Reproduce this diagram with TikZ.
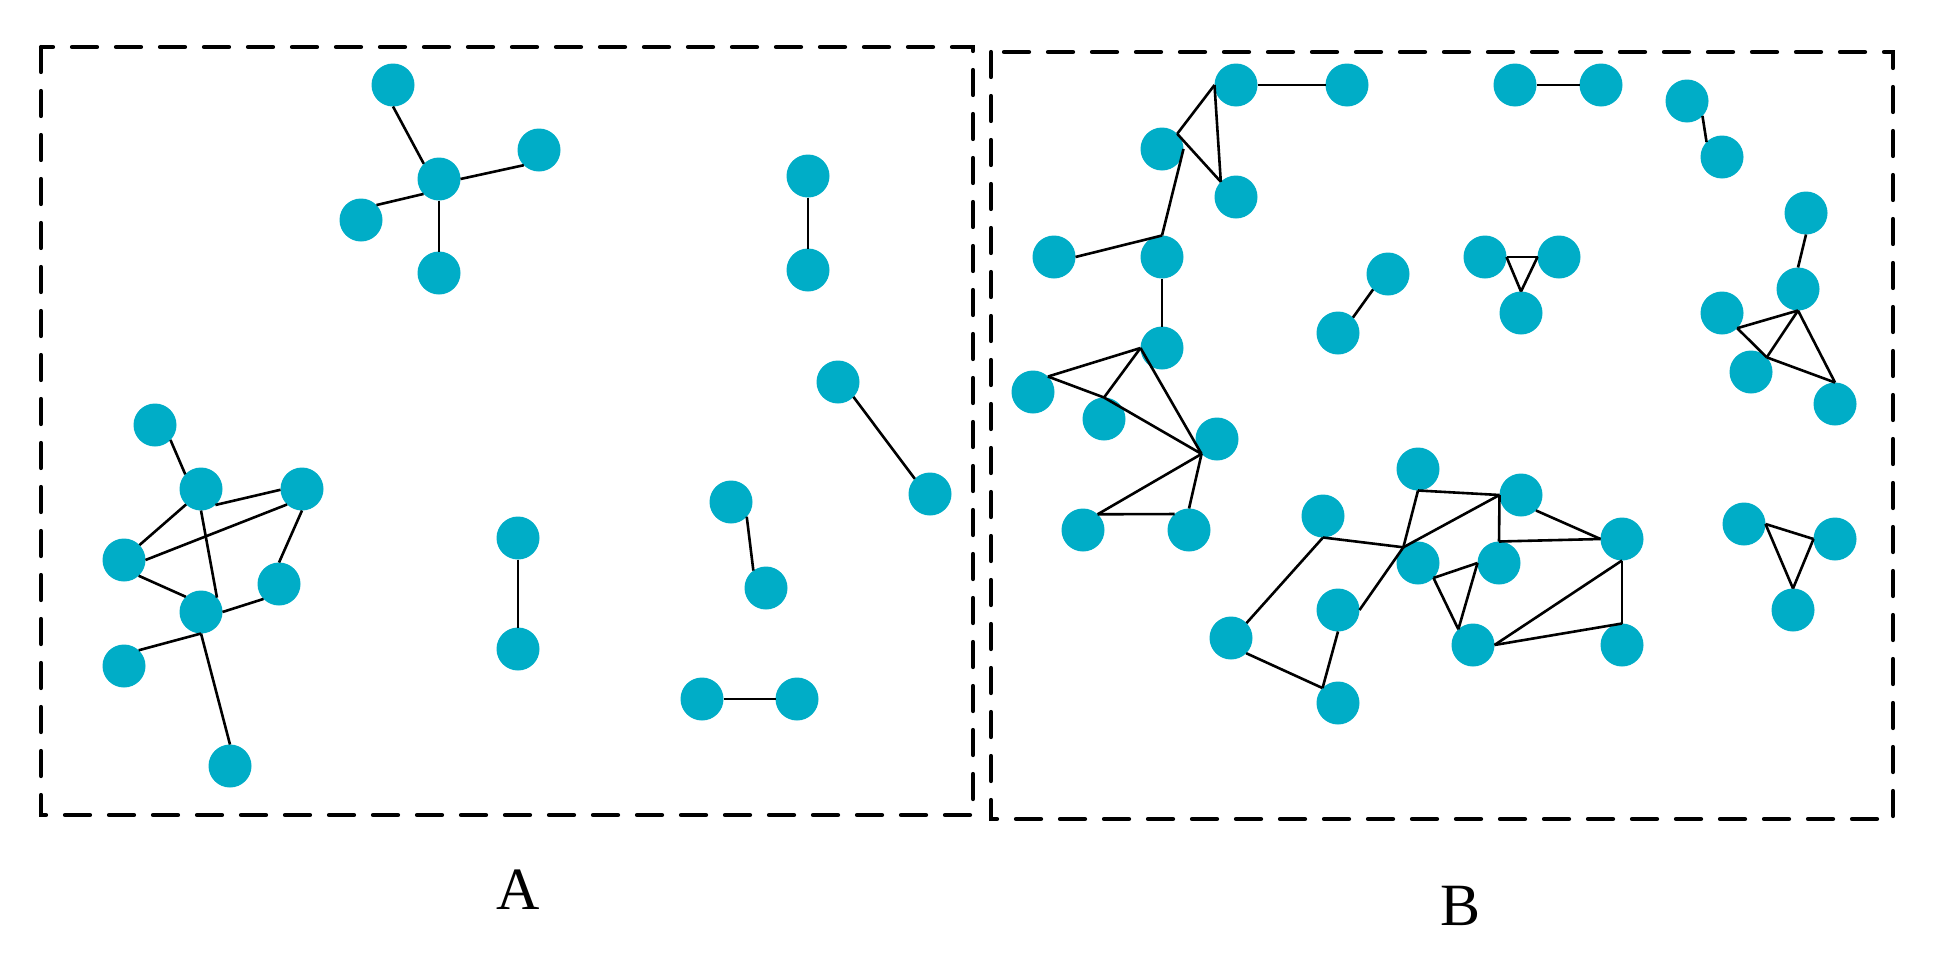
\documentclass[tikz,border=0pt]{standalone}
\usepackage{fontspec}
\setmainfont{Liberation Serif}
\definecolor{nodecyan}{RGB}{0,173,199}
\begin{document}
\begin{tikzpicture}[x=1pt,y=-1pt,
  dotnode/.style={circle,fill=nodecyan,minimum size=43pt,inner sep=0pt,outer sep=0pt},
  link/.style={line width=2.6pt,black},
  frame/.style={line width=4.2pt,dash pattern=on 25pt off 19pt,line cap=round},
  panellabel/.style={anchor=base,inner sep=0pt,font=\fontsize{60}{72}\selectfont}]
\useasboundingbox (0,0) rectangle (1942,964);
\fill[white] (0,0) rectangle (1942,964);
% frames
\draw[frame] (41,47) rectangle (973,815);
\draw[frame] (991,52) rectangle (1893,819);
% labels
\node[panellabel] (labA) at (518,909) {A};
\node[panellabel] (labB) at (1460,925) {B};
% panel A nodes
\foreach \n/\x/\y in {a1/393/85,a2/439/179,a3/361/220,a4/439/273,a5/539/150,
  a6/808/176,a7/808/270,a8/838/382,a9/930/494,a10/518/538,a11/518/649,
  a12/731/502,a13/766/588,a14/702/699,a15/797/699,a16/155/425,a17/201/489,
  a18/302/489,a19/124/560,a20/279/584,a21/201/612,a22/124/666,a23/230/766}
  {\node[dotnode] (\n) at (\x,\y) {};}
% panel B nodes
\foreach \n/\x/\y in {b1/1236/85,b2/1347/85,b3/1162/149,b4/1236/197,b5/1054/257,
  b6/1162/257,b7/1162/348,b8/1033/392,b9/1104/419,b10/1217/439,b11/1388/274,
  b12/1338/333,b13/1083/530,b14/1189/530,b15/1323/516,b16/1231/638,b17/1338/610,
  b18/1338/703,b19/1418/469,b20/1418/563,b21/1473/645,b22/1521/495,b23/1499/563,
  b24/1622/539,b25/1622/645,b26/1744/524,b27/1835/539,b28/1793/610,b29/1515/85,
  b30/1601/85,b31/1687/101,b32/1722/157,b33/1485/257,b34/1559/257,b35/1521/313,
  b36/1806/213,b37/1798/289,b38/1722/313,b39/1751/372,b40/1835/404}
  {\node[dotnode] (\n) at (\x,\y) {};}
% panel A edges
\draw[link] (a1.270) -- (a2.135);
\draw[link] (a2.224) -- (a3.44);
\draw[link] (a2.270) -- (a4.90);
\draw[link] (a2.0) -- (a5.225);
\draw[link] (a6.270) -- (a7.90);
\draw[link] (a8.316) -- (a9.135);
\draw[link] (a10.270) -- (a11.90);
\draw[link] (a12.317) -- (a13.126);
\draw[link] (a14.0) -- (a15.180);
\draw[link] (a16.316) -- (a17.137);
\draw[link] (a17.312) -- (a18.182);
\draw[link] (a17.226) -- (a19.44);
\draw[link] (a19.0) -- (a18.226);
\draw[link] (a17.270) -- (a21.42);
\draw[link] (a18.270) -- (a20.90);
\draw[link] (a19.313) -- (a21.135);
\draw[link] (a21.0) -- (a20.224);
\draw[link] (a21.270) -- (a22.47);
\draw[link] (a21.270) -- (a23.90);
% panel B edges
\draw[link] (b1.0) -- (b2.180);
\draw[link] (b1.180) -- (b3.45);
\draw[link] (b1.180) -- (b4.135);
\draw[link] (b3.45) -- (b4.135);
\draw[link] (b3.0) -- (b6.90);
\draw[link] (b5.0) -- (b6.90);
\draw[link] (b6.270) -- (b7.90);
\draw[link] (b11.226) -- (b12.46);
\draw[link] (b7.180) -- (b8.46);
\draw[link] (b7.180) -- (b9.90);
\draw[link] (b7.180) -- (b10.224);
\draw[link] (b8.46) -- (b9.90);
\draw[link] (b9.90) -- (b10.224);
\draw[link] (b10.224) -- (b13.47);
\draw[link] (b10.224) -- (b14.90);
\draw[link] (b13.47) -- (b14.132);
\draw[link] (b15.270) -- (b16.44);
\draw[link] (b15.270) -- (b20.133);
\draw[link] (b16.315) -- (b18.136);
\draw[link] (b17.270) -- (b18.136);
\draw[link] (b17.0) -- (b20.133);
\draw[link] (b20.133) -- (b19.270);
\draw[link] (b19.270) -- (b22.180);
\draw[link] (b20.133) -- (b22.180);
\draw[link] (b22.180) -- (b23.90);
\draw[link] (b23.90) -- (b24.180);
\draw[link] (b22.314) -- (b24.180);
\draw[link] (b20.316) -- (b23.180);
\draw[link] (b20.316) -- (b21.133);
\draw[link] (b21.133) -- (b23.180);
\draw[link] (b21.0) -- (b24.270);
\draw[link] (b21.0) -- (b25.90);
\draw[link] (b24.270) -- (b25.90);
\draw[link] (b26.0) -- (b27.180);
\draw[link] (b26.0) -- (b28.90);
\draw[link] (b27.180) -- (b28.90);
\draw[link] (b29.0) -- (b30.180);
\draw[link] (b31.316) -- (b32.136);
\draw[link] (b33.0) -- (b34.180);
\draw[link] (b33.0) -- (b35.90);
\draw[link] (b34.180) -- (b35.90);
\draw[link] (b36.270) -- (b37.90);
\draw[link] (b37.270) -- (b38.315);
\draw[link] (b37.270) -- (b39.43);
\draw[link] (b37.270) -- (b40.90);
\draw[link] (b38.315) -- (b39.43);
\draw[link] (b39.43) -- (b40.90);
\end{tikzpicture}
\end{document}
